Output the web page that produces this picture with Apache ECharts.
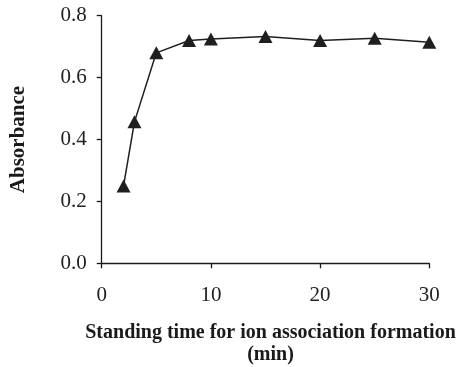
<!DOCTYPE html>
<html>
<head>
<meta charset="utf-8">
<script src="https://cdn.jsdelivr.net/npm/echarts@6/dist/echarts.min.js"></script>
<style>
html,body{margin:0;padding:0;background:#fff;}
#chart{width:463px;height:367px;}
</style>
</head>
<body>
<div id="chart"></div>
<script>
const timeMin = [2, 3, 5, 8, 10, 15, 20, 25, 30];
const absorbance = [0.250, 0.457, 0.680, 0.720, 0.725, 0.733, 0.720, 0.727, 0.714];
const xTicks = [0, 10, 20, 30];
const yTicks = [0.0, 0.2, 0.4, 0.6, 0.8];
const xTitle = 'Standing time for ion association formation\n(min)';
const yTitle = 'Absorbance';

const chart = echarts.init(document.getElementById('chart'));
const font = '"Liberation Serif", "Times New Roman", serif';
chart.setOption({
  animation: false,
  backgroundColor: '#fff',
  grid: {left: 101.7, right: 33.7, top: 15.7, bottom: 103.7, containLabel: false, outerBoundsMode: 'none'},
  xAxis: {
    type: 'value', min: xTicks[0], max: xTicks[xTicks.length - 1], interval: 10,
    name: xTitle, nameLocation: 'middle', nameGap: 59,
    nameTextStyle: {fontFamily: font, fontWeight: 'bold', fontSize: 20, color: '#1a1a1a', lineHeight: 22, padding: [0, 0, 0, 10]},
    axisLine: {lineStyle: {color: '#1a1a1a', width: 1.3}},
    axisTick: {show: true, inside: false, length: 5, lineStyle: {color: '#1a1a1a', width: 1.3}},
    axisLabel: {fontFamily: font, fontSize: 21, color: '#222', margin: 22},
    splitLine: {show: false}
  },
  yAxis: {
    type: 'value', min: yTicks[0], max: yTicks[yTicks.length - 1], interval: 0.2,
    name: yTitle, nameLocation: 'middle', nameGap: 73,
    nameTextStyle: {fontFamily: font, fontWeight: 'bold', fontSize: 21, color: '#1a1a1a'},
    axisLine: {show: true, lineStyle: {color: '#1a1a1a', width: 1.3}},
    axisTick: {show: true, inside: false, length: 5, lineStyle: {color: '#1a1a1a', width: 1.3}},
    axisLabel: {fontFamily: font, fontSize: 21, color: '#222', margin: 15, formatter: v => v.toFixed(1)},
    splitLine: {show: false}
  },
  series: [{
    type: 'line',
    data: timeMin.map((t, i) => [t, absorbance[i]]),
    symbol: 'triangle', symbolSize: [14, 13],
    itemStyle: {color: '#1f1f1f'},
    lineStyle: {color: '#1f1f1f', width: 1.5},
    showSymbol: true
  }]
});
</script>
</body>
</html>
